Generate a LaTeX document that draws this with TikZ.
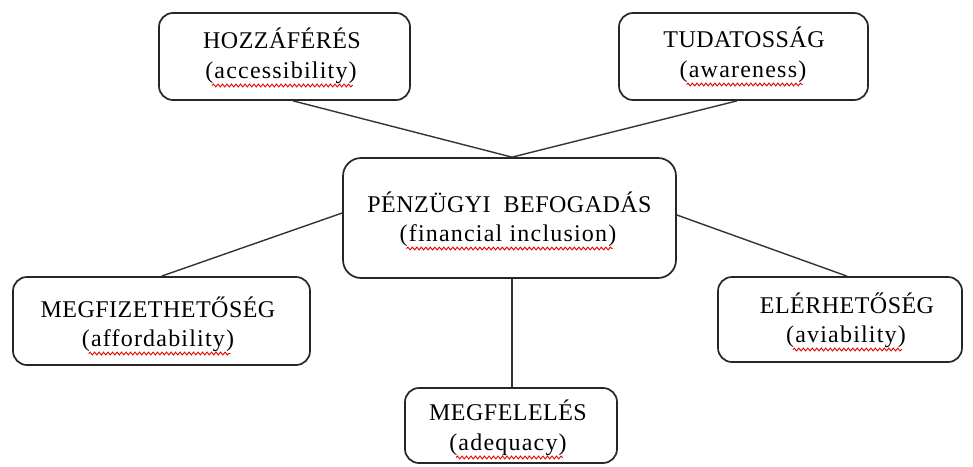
\documentclass[tikz,border=0pt]{standalone}
\usepackage{fontspec}
\setmainfont{Liberation Serif}
\newfontfamily\headfont[LetterSpace=2]{Liberation Serif}
\newfontfamily\subfont[LetterSpace=5]{Liberation Serif}
\usetikzlibrary{decorations.pathmorphing}

\begin{document}
\begin{tikzpicture}[x=1pt,y=-1pt,
  box/.style={draw=black!85, line width=1.7pt, rounded corners=14pt, fill=white, inner sep=0pt},
  head/.style={anchor=base, inner sep=0pt, font=\fontsize{24}{28}\headfont},
  sub/.style={anchor=base, inner sep=0pt, font=\fontsize{24}{28}\subfont},
  link/.style={draw=black!80, line width=1.4pt},
  squig/.style={draw=red!90!black, line width=0.9pt, decorate,
    decoration={snake, segment length=4.5pt, amplitude=1.4pt}}]
\useasboundingbox (0,0) rectangle (973,466);

% boxes
\node[box, minimum width=251pt, minimum height=87pt] (acc) at (284.5,56.5) {};
\node[box, minimum width=249pt, minimum height=87pt] (awa) at (743.5,56.5) {};
\node[box, minimum width=333pt, minimum height=120pt, rounded corners=18pt] (fin) at (509.5,218) {};
\node[box, minimum width=297pt, minimum height=88pt] (aff) at (161.5,321) {};
\node[box, minimum width=212pt, minimum height=75pt] (ade) at (511,425.5) {};
\node[box, minimum width=244pt, minimum height=85pt] (avi) at (840,319.5) {};

% connectors
\draw[link] ([xshift=8.5pt]acc.south) -- ([xshift=2.5pt]fin.north);
\draw[link] ([xshift=-6.5pt]awa.south) -- ([xshift=2.5pt]fin.north);
\draw[link] ([yshift=5pt]fin.west) -- (aff.north);
\draw[link] ([yshift=3pt]fin.east) -- ([xshift=7pt]avi.north);
\draw[link] ([xshift=2.5pt]fin.south) -- ([xshift=2.5pt]fin.south |- ade.north);

% labels
\node[head] (accT) at (282,48) {HOZZÁFÉRÉS};
\node[sub]  (accS) at (281,78) {(accessibility)};
\node[head] (awaT) at (744,47) {TUDATOSSÁG};
\node[sub]  (awaS) at (743,77) {(awareness)};
\node[head] (finT) at (509.5,212) {PÉNZÜGYI~~BEFOGADÁS};
\node[sub]  (finS) at (508,241) {(financial inclusion)};
\node[head] (affT) at (158,317) {MEGFIZETHETŐSÉG};
\node[sub]  (affS) at (158,346) {(affordability)};
\node[head] (adeT) at (508,420) {MEGFELELÉS};
\node[sub]  (adeS) at (508,450) {(adequacy)};
\node[head] (aviT) at (847,313) {ELÉRHETŐSÉG};
\node[sub]  (aviS) at (846,342) {(aviability)};

% spell-check underlines
\foreach \n in {accS,awaS,finS,affS,adeS,aviS}{
  \draw[squig] ([xshift=7pt,yshift=-7.5pt]\n.base west) -- ([xshift=-4pt,yshift=-7.5pt]\n.base east);
}
\end{tikzpicture}
\end{document}
